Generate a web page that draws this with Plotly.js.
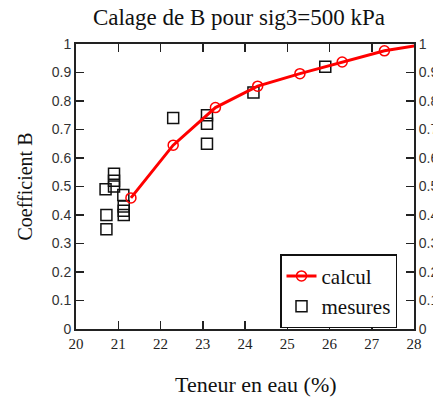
<!DOCTYPE html>
<html>
<head>
<meta charset="utf-8">
<script src="https://cdn.plot.ly/plotly-3.0.1.min.js"></script>
<style>html,body{margin:0;padding:0;background:#fff;}#chart{width:433px;height:402px;}</style>
</head>
<body>
<div id="chart"></div>
<script>
// Data
const calculX = [21.3, 22.3, 23.3, 24.3, 25.3, 26.3, 27.3, 28.3];
const calculY = [0.46, 0.645, 0.777, 0.852, 0.896, 0.937, 0.976, 1.0];
const mesuresX = [20.7, 20.72, 20.72, 20.9, 20.9, 20.9, 21.12, 21.13, 21.13, 21.13, 22.3, 23.1, 23.1, 23.1, 24.2, 25.9];
const mesuresY = [0.49, 0.40, 0.35, 0.545, 0.52, 0.50, 0.47, 0.43, 0.415, 0.40, 0.74, 0.75, 0.72, 0.65, 0.83, 0.92];
const xTicks = [20, 21, 22, 23, 24, 25, 26, 27, 28];
const yTicks = [0, 0.1, 0.2, 0.3, 0.4, 0.5, 0.6, 0.7, 0.8, 0.9, 1];
const yTickText = ['0', '0.1', '0.2', '0.3', '0.4', '0.5', '0.6', '0.7', '0.8', '0.9', '1'];
const titleText = 'Calage de B pour sig3=500 kPa';
const xTitle = 'Teneur en eau (%)';
const yTitle = 'Coefficient B';

const serif = 'Liberation Serif, Times New Roman, serif';
const sans = 'Liberation Sans, Arial, sans-serif';

const traces = [
  {
    x: calculX, y: calculY, name: 'calcul', type: 'scatter', mode: 'lines+markers',
    line: {color: '#ff0000', width: 3},
    marker: {symbol: 'circle-open', size: 10, color: '#ff0000', line: {width: 1.5, color: '#ff0000'}},
    xaxis: 'x', yaxis: 'y2'
  },
  {
    x: mesuresX, y: mesuresY, name: 'mesures', type: 'scatter', mode: 'markers',
    marker: {symbol: 'square-open', size: 11, color: '#111', line: {width: 1.5, color: '#111'}},
    xaxis: 'x', yaxis: 'y'
  }
];

const layout = {
  width: 433, height: 402,
  margin: {l: 76, r: 19, t: 44, b: 73},
  paper_bgcolor: '#fff', plot_bgcolor: '#fff',
  showlegend: true,
  title: {text: titleText, x: 239/433, xref: 'container', xanchor: 'center', y: 1 - 17/402, yanchor: 'middle',
          font: {family: serif, size: 23, color: '#111'}},
  xaxis: {
    range: [20, 28], tickvals: xTicks, ticktext: xTicks.map(String),
    showgrid: false, zeroline: false, showline: true, linecolor: '#222', linewidth: 2,
    mirror: 'ticks', ticks: 'inside', ticklen: 8, tickwidth: 1.5, tickcolor: '#222',
    tickfont: {family: serif, size: 15, color: '#222'},
    fixedrange: true
  },
  yaxis: {
    range: [0, 1], tickvals: yTicks, ticktext: yTickText,
    showgrid: false, zeroline: false, showline: true, linecolor: '#222', linewidth: 2,
    ticks: 'inside', ticklen: 8, tickwidth: 1.5, tickcolor: '#222',
    tickfont: {family: sans, size: 14, color: '#333'},
    title: {text: yTitle, font: {family: serif, size: 20, color: '#111'}, standoff: 14},
    fixedrange: true
  },
  yaxis2: {
    range: [0, 1], tickvals: yTicks, ticktext: yTickText, overlaying: 'y', side: 'right',
    showgrid: false, zeroline: false, showline: true, linecolor: '#222', linewidth: 2,
    ticks: 'inside', ticklen: 8, tickwidth: 1.5, tickcolor: '#222',
    tickfont: {family: sans, size: 14, color: '#333'},
    fixedrange: true
  },
  legend: {
    x: (280 - 76) / 338, y: (329 - 254) / 286, xanchor: 'left', yanchor: 'top',
    bgcolor: '#fff', bordercolor: '#111', borderwidth: 1.5,
    font: {family: serif, size: 21, color: '#111'},
    traceorder: 'normal'
  },
  annotations: [
    {text: xTitle, xref: 'paper', yref: 'paper', x: (256 - 76) / 338, y: (329 - 385) / 286,
     xanchor: 'center', yanchor: 'middle', showarrow: false,
     font: {family: serif, size: 22, color: '#111'}}
  ]
};

Plotly.newPlot('chart', traces, layout, {displayModeBar: false, staticPlot: true});
</script>
</body>
</html>
